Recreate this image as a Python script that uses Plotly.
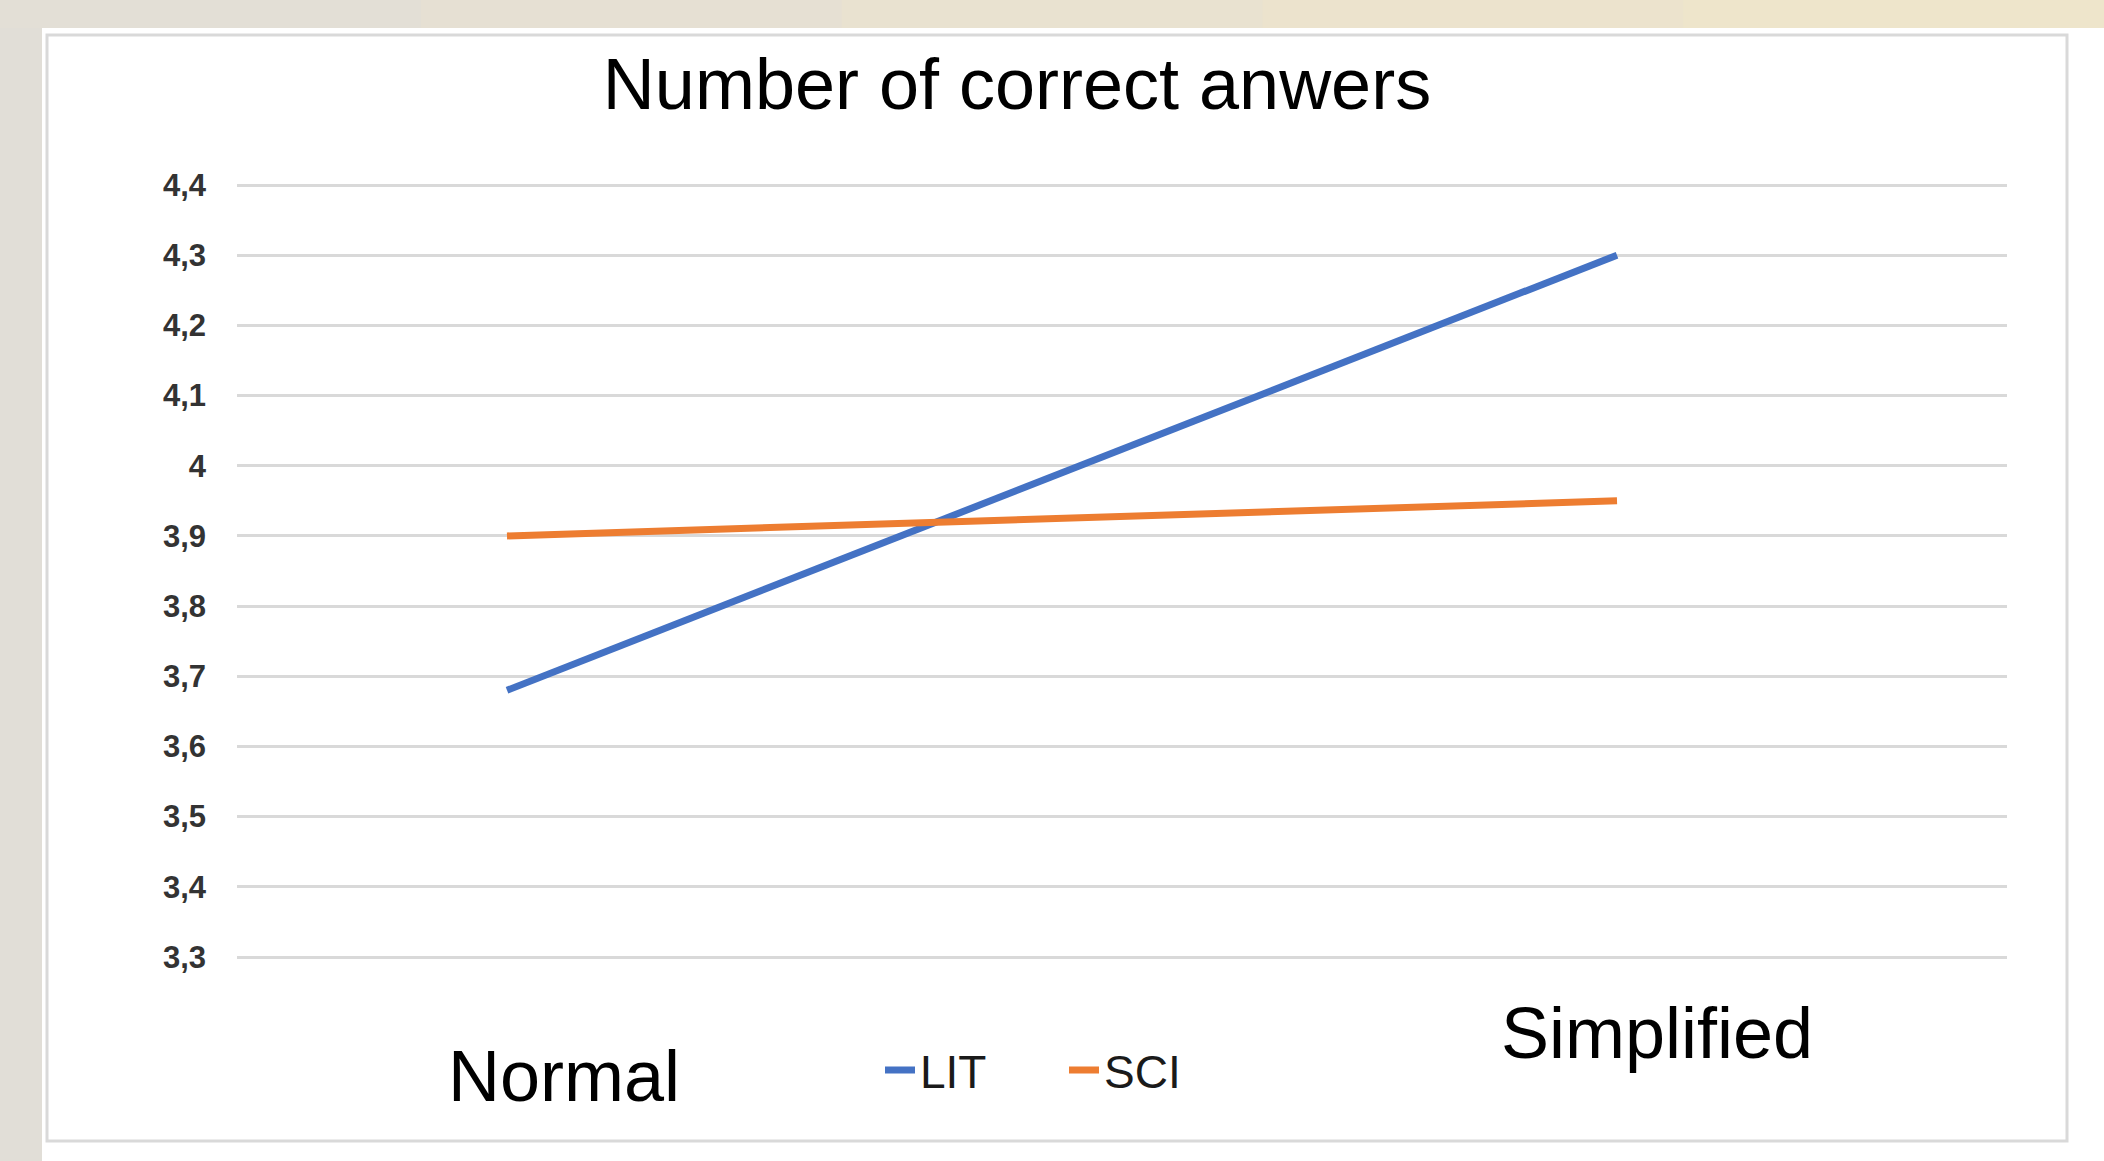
import plotly.graph_objects as go

# ---- data ----
categories = ["Normal", "Simplified"]
lit_values = [3.68, 4.30]
sci_values = [3.90, 3.95]
series_names = ["LIT", "SCI"]
series_colors = ["#4472C4", "#ED7D31"]
y_tickvals = [3.3, 3.4, 3.5, 3.6, 3.7, 3.8, 3.9, 4.0, 4.1, 4.2, 4.3, 4.4]
y_ticktext = ["3,3", "3,4", "3,5", "3,6", "3,7", "3,8", "3,9", "4", "4,1", "4,2", "4,3", "4,4"]
title_text = "Number of correct anwers"

# ---- layout geometry (pixels) ----
W, H = 2104, 1161
PAD = 4
L, R, T, B = 237, 2007, 185 - PAD, 957 + PAD  # plot area edges
PPU = (957 - 185) / 1.1  # pixels per y unit


def px(x):
    return (x - L) / (R - L)


def py(y):
    return (B - y) / (B - T)


fig = go.Figure()
for name, vals, col in zip(series_names, [lit_values, sci_values], series_colors):
    fig.add_trace(go.Scatter(
        x=categories, y=vals, name=name, mode="lines",
        line=dict(color=col, width=7),
    ))

shapes = []
# slide background strips
top_cols = ["#e3dfd6", "#e6e0d3", "#e9e2d0", "#ece3cd", "#eee5cb"]
seg = W / len(top_cols)
for i, c in enumerate(top_cols):
    shapes.append(dict(type="rect", xref="paper", yref="paper", layer="below",
                       x0=px(i * seg), x1=px((i + 1) * seg + 1), y0=py(28), y1=py(0),
                       fillcolor=c, line=dict(width=0)))
shapes.append(dict(type="rect", xref="paper", yref="paper", layer="below",
                   x0=px(0), x1=px(42), y0=py(H), y1=py(28),
                   fillcolor="#e1ded7", line=dict(width=0)))
# card border
shapes.append(dict(type="rect", xref="paper", yref="paper", layer="below",
                   x0=px(47), x1=px(2067), y0=py(1141), y1=py(35),
                   fillcolor="rgba(0,0,0,0)", line=dict(color="#d9d9d9", width=3)))

annotations = []
label_shift = [57, 40]
label_y = [1076, 1033]
for cat, sh, yy in zip(categories, label_shift, label_y):
    annotations.append(dict(
        x=cat, xref="x", xshift=sh, y=py(yy), yref="paper",
        xanchor="center", yanchor="middle", showarrow=False, text=cat,
        font=dict(family="Liberation Sans, Arial, sans-serif", size=72, color="#000000"),
    ))

fig.update_layout(
    width=W, height=H, autosize=False,
    paper_bgcolor="#ffffff", plot_bgcolor="rgba(0,0,0,0)",
    margin=dict(l=L, r=W - R, t=T, b=H - B, autoexpand=False),
    title=dict(text=title_text, x=1017 / W, xanchor="center", xref="container",
               y=1 - 84 / H, yanchor="middle",
               font=dict(family="Liberation Sans, Arial, sans-serif", size=72, color="#000000")),
    xaxis=dict(type="category", range=[-270 / 1110, 1 + 390 / 1110],
               showticklabels=False, showgrid=False, zeroline=False, showline=False, ticks=""),
    yaxis=dict(range=[3.3 - PAD / PPU, 4.4 + PAD / PPU], tickvals=y_tickvals, ticktext=y_ticktext,
               showgrid=True, gridcolor="#d9d9d9", gridwidth=2.5, zeroline=False,
               showline=False, ticks="", ticklabelstandoff=30,
               tickfont=dict(family="Liberation Sans, Arial, sans-serif", size=31, color="#333333",
                             weight="bold")),
    legend=dict(orientation="h", x=px(880), xanchor="left", y=py(1070), yanchor="middle",
                font=dict(family="Liberation Sans Narrow, Arial Narrow, Liberation Sans, sans-serif",
                          size=46, color="#1a1a1a"),
                bgcolor="rgba(0,0,0,0)", entrywidth=139, entrywidthmode="pixels"),
    shapes=shapes,
    annotations=annotations,
    showlegend=True,
)

fig.write_html("out.html", config={"displayModeBar": False},
               post_script="document.body.style.margin='0';")
